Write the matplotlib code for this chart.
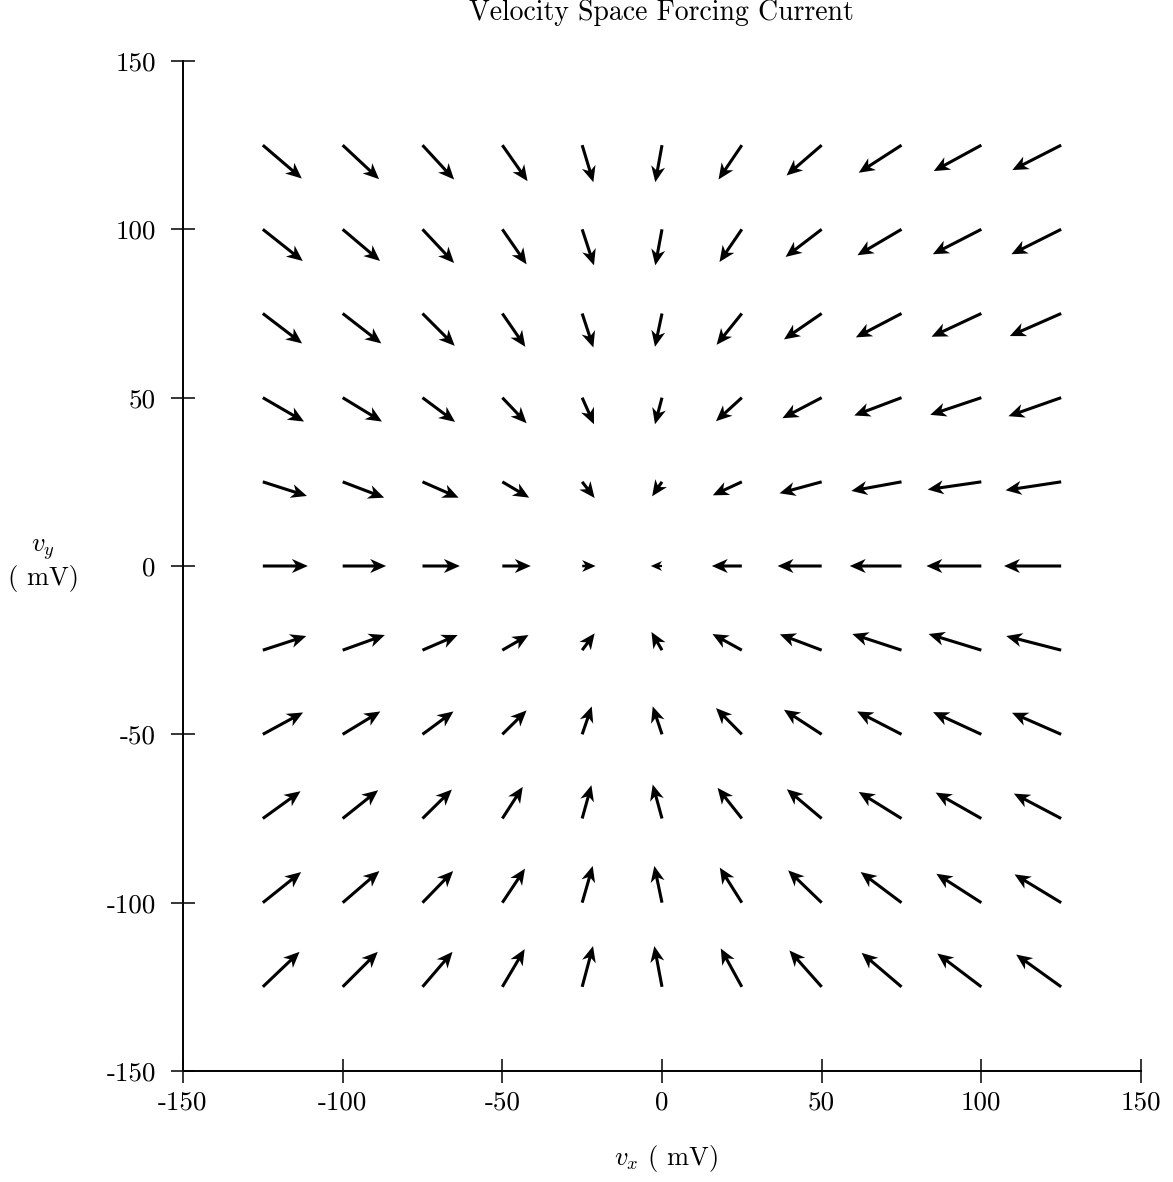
import numpy as np
import matplotlib
matplotlib.use("Agg")
import matplotlib.pyplot as plt

plt.rcParams["font.family"] = ["cmr10", "DejaVu Serif"]
plt.rcParams["mathtext.fontset"] = "cm"
plt.rcParams["axes.unicode_minus"] = False

# grid of velocity-space sample points (mV)
vx_grid = [-125, -100, -75, -50, -25, 0, 25, 50, 75, 100, 125]
vy_grid = [125, 100, 75, 50, 25, 0, -25, -50, -75, -100, -125]

# forcing current, x component (rows follow vy_grid, columns follow vx_grid)
u_rows = [
    [12.2, 11.4, 9.9, 7.9, 3.5, -2.1, -7.3, -11.0, -13.4, -14.9, -15.3],
    [12.5, 11.7, 9.9, 7.6, 3.7, -2.1, -7.0, -11.3, -13.8, -15.2, -15.6],
    [12.3, 12.1, 10.1, 7.2, 3.5, -2.2, -7.9, -11.8, -14.3, -15.6, -16.1],
    [12.9, 12.3, 10.2, 7.6, 3.7, -2.2, -8.1, -12.3, -14.8, -16.0, -16.5],
    [13.8, 13.0, 11.3, 8.4, 3.9, -3.1, -9.1, -13.2, -15.7, -16.8, -17.4],
    [14.1, 13.6, 11.7, 8.9, 4.2, -3.5, -9.4, -13.8, -16.2, -17.2, -17.9],
    [13.6, 13.2, 11.0, 8.2, 3.9, -3.3, -9.2, -13.1, -15.4, -16.5, -17.2],
    [12.6, 11.8, 9.7, 7.6, 3.0, -2.9, -8.1, -11.8, -13.9, -15.1, -15.4],
    [11.8, 11.1, 9.2, 6.4, 2.9, -2.9, -7.6, -10.9, -13.4, -14.3, -14.8],
    [12.0, 11.5, 9.6, 7.1, 3.3, -2.4, -6.9, -10.5, -12.8, -14.1, -14.6],
    [11.5, 11.0, 9.4, 7.0, 3.4, -2.4, -6.6, -10.1, -12.5, -13.8, -14.1],
]

# forcing current, y component
v_rows = [
    [-9.9, -10.1, -10.2, -10.7, -11.0, -11.0, -10.2, -9.0, -8.2, -7.7, -7.4],
    [-9.4, -9.4, -10.0, -10.4, -10.7, -10.7, -9.7, -8.2, -7.7, -7.4, -7.4],
    [-8.9, -8.9, -9.6, -9.9, -10.1, -9.9, -9.3, -7.7, -7.1, -6.9, -6.7],
    [-7.1, -7.1, -7.2, -7.6, -7.9, -7.9, -7.0, -6.1, -5.3, -5.1, -5.5],
    [-4.2, -4.7, -4.7, -4.7, -4.8, -4.3, -4.0, -3.4, -2.7, -2.3, -2.5],
    [0.0, 0.0, 0.0, 0.0, 0.0, 0.0, 0.0, 0.0, 0.0, 0.0, 0.0],
    [4.2, 4.5, 4.5, 4.5, 5.0, 5.4, 4.8, 4.7, 4.8, 4.8, 4.2],
    [6.5, 6.8, 6.8, 7.1, 8.3, 8.3, 7.8, 7.3, 6.8, 6.6, 6.4],
    [8.1, 8.4, 8.6, 9.4, 9.9, 10.1, 9.1, 8.7, 7.9, 7.7, 7.4],
    [9.1, 9.4, 9.4, 10.1, 10.9, 10.9, 10.4, 9.6, 9.1, 8.6, 8.4],
    [10.4, 10.4, 10.4, 11.2, 12.1, 12.1, 11.4, 10.8, 10.1, 9.9, 9.6],
]

tick_values = [-150, -100, -50, 0, 50, 100, 150]
tick_labels = ["-150", "-100", "-50", "0", "50", "100", "150"]

W, H = 1173, 1182
fig = plt.figure(figsize=(W / 100, H / 100), dpi=100)
ax = fig.add_axes([183 / W, 1 - 1071 / H, (1141 - 183) / W, (1071 - 61) / H])

X, Y = np.meshgrid(vx_grid, vy_grid)
U = np.array(u_rows)
V = np.array(v_rows)
ax.quiver(X, Y, U, V, angles="xy", scale_units="xy", scale=1, pivot="tail",
          color="black", width=0.0032, headwidth=4.6, headlength=5.2,
          headaxislength=4.0)

ax.set_xlim(-150, 150)
ax.set_ylim(-150, 150)
for side in ("top", "right"):
    ax.spines[side].set_visible(False)
for side in ("left", "bottom"):
    ax.spines[side].set_linewidth(1.4)

ax.set_xticks(tick_values)
ax.set_xticklabels(tick_labels)
ax.set_yticks(tick_values)
ax.set_yticklabels(tick_labels)
ax.tick_params(direction="inout", length=17, width=1.1, labelsize=19.5)
ax.tick_params(axis="x", pad=6)
ax.tick_params(axis="y", pad=11)

fig.text(661 / W, 1 - 13 / H, "Velocity Space Forcing Current",
         ha="center", va="center", fontsize=20)
fig.text(666 / W, 1 - 1158 / H, r"$v_x$ ( mV)", ha="center", va="center",
         fontsize=19)
fig.text(43 / W, 1 - 550 / H, r"$v_y$", ha="center", va="center", fontsize=19)
fig.text(43 / W, 1 - 579 / H, "( mV)", ha="center", va="center", fontsize=19)

fig.savefig("out.png", dpi=100)
